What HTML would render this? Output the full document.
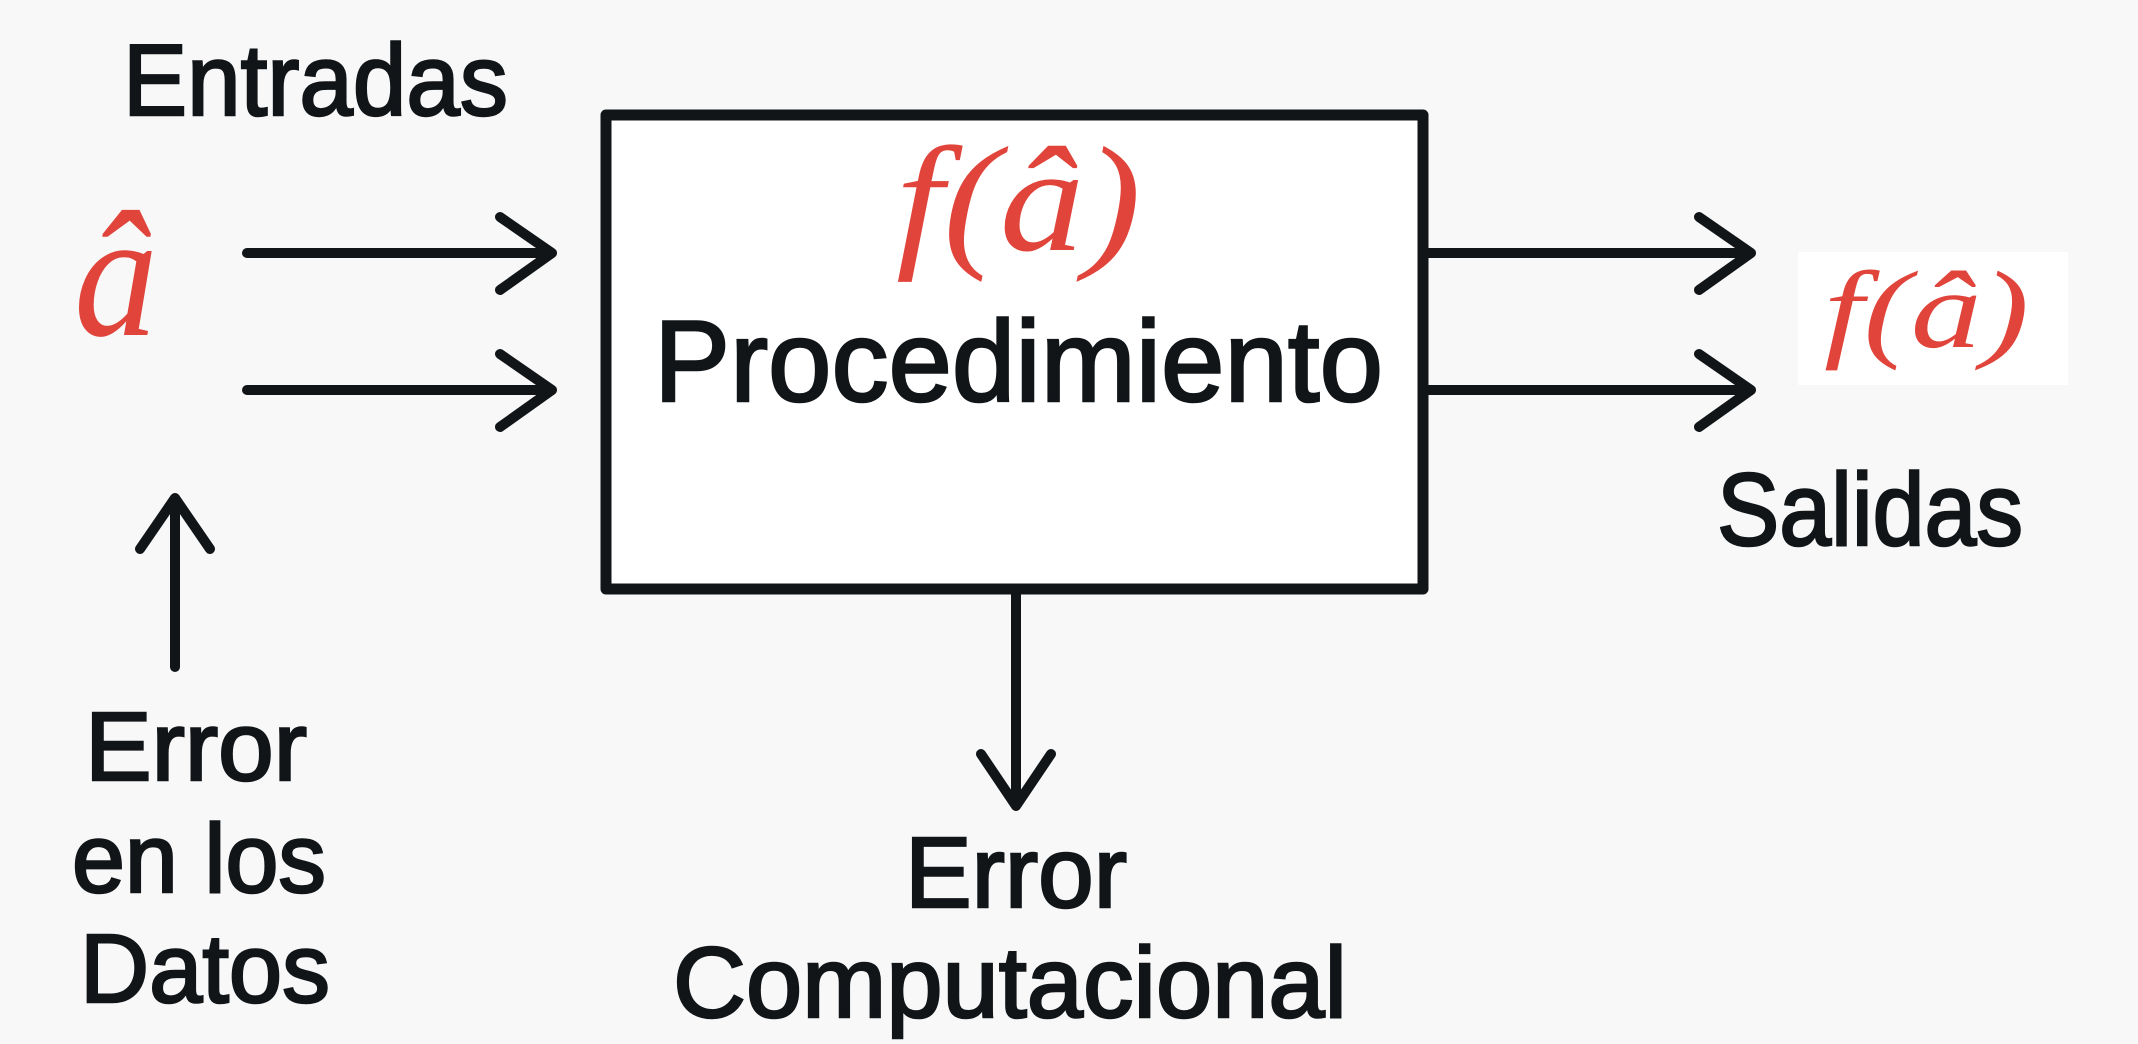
<!DOCTYPE html>
<html><head><meta charset="utf-8"><style>
html,body{margin:0;padding:0;background:#f8f8f8;}
svg{display:block;}
</style></head><body>
<svg width="2138" height="1044" viewBox="0 0 2138 1044" xmlns="http://www.w3.org/2000/svg">
<rect width="2138" height="1044" fill="#f8f8f8"/>
<rect x="606" y="115" width="817" height="474" fill="#fff" stroke="#111518" stroke-width="11" stroke-linejoin="round"/>
<rect x="1798" y="252" width="270" height="133" fill="#fff"/>
<g font-family="Liberation Sans, DejaVu Sans, sans-serif" fill="#111518" stroke="#111518" stroke-width="2.5">
<text x="123" y="115" font-size="101" textLength="385" lengthAdjust="spacingAndGlyphs">Entradas</text>
<text x="654" y="401" font-size="115" textLength="729" lengthAdjust="spacingAndGlyphs">Procedimiento</text>
<text x="85" y="780" font-size="97" textLength="222" lengthAdjust="spacingAndGlyphs">Error</text>
<text x="72" y="892" font-size="97" textLength="254" lengthAdjust="spacingAndGlyphs">en los</text>
<text x="80" y="1002" font-size="97" textLength="250" lengthAdjust="spacingAndGlyphs">Datos</text>
<text x="905" y="907" font-size="100" textLength="222" lengthAdjust="spacingAndGlyphs">Error</text>
<text x="673" y="1017" font-size="100" textLength="674" lengthAdjust="spacingAndGlyphs">Computacional</text>
<text x="1717" y="545" font-size="103" textLength="306" lengthAdjust="spacingAndGlyphs">Salidas</text>
</g>
<g font-family="Liberation Serif, DejaVu Serif, serif" font-style="italic" fill="#e0443a">
<text x="74" y="335" font-size="180" textLength="84" lengthAdjust="spacingAndGlyphs">â</text>
<text x="896" y="250" font-size="150" textLength="245" lengthAdjust="spacingAndGlyphs">f(â)</text>
<text x="1824" y="347" font-size="110" textLength="205" lengthAdjust="spacingAndGlyphs">f(â)</text>
</g>
<g stroke="#111518" stroke-width="10" stroke-linecap="round" stroke-linejoin="round" fill="none">
<path d="M247 253H552M500 217L552 253L500 290"/>
<path d="M247 390H552M500 354L552 390L500 427"/>
<path d="M1428 253H1751M1699 217L1751 253L1699 290"/>
<path d="M1428 390H1751M1699 354L1751 390L1699 427"/>
<path d="M175 667V498M140 549L175 498L210 549"/>
<path d="M1016 594V806M981 754L1016 806L1051 754"/>
</g>
</svg>
</body></html>
